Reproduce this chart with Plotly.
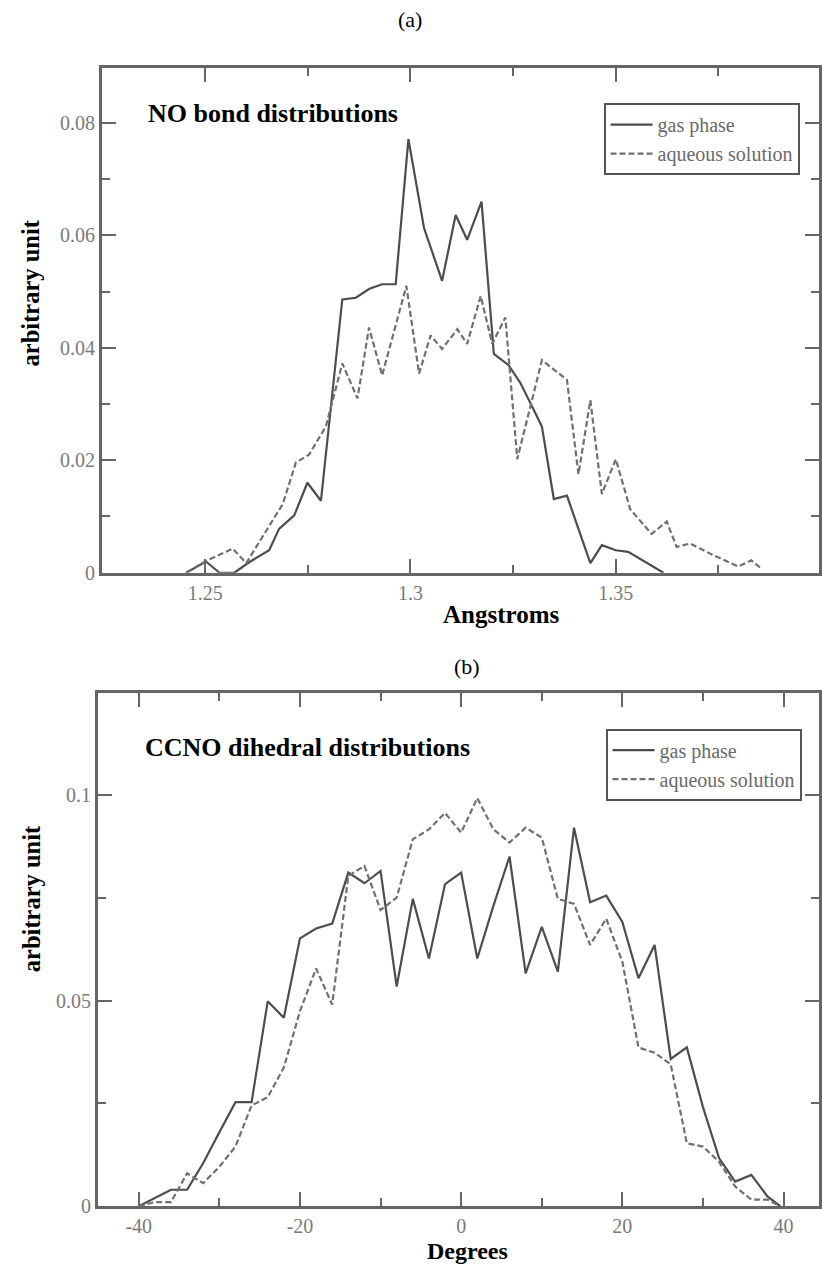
import plotly.graph_objects as go

# ---------------- (a) NO bond distributions ----------------
no_gas_x = [1.2454, 1.2502, 1.2535, 1.2571, 1.2608, 1.2656, 1.2680, 1.2717, 1.2749, 1.2782,
            1.2834, 1.2867, 1.2900, 1.2931, 1.2964, 1.2995, 1.3033, 1.3077, 1.3110, 1.3138,
            1.3173, 1.3203, 1.3239, 1.3268, 1.3300, 1.3320, 1.3349, 1.3381, 1.3438, 1.3466,
            1.3500, 1.3530, 1.3616]
no_gas_y = [0, 0.0020, 0, 0, 0.0019, 0.0040, 0.0078, 0.0102, 0.0160, 0.0128,
            0.0486, 0.0489, 0.0505, 0.0513, 0.0513, 0.0771, 0.0613, 0.0519, 0.0636, 0.0592,
            0.0660, 0.0389, 0.0369, 0.0337, 0.0290, 0.0260, 0.0131, 0.0137, 0.0017, 0.0049,
            0.0040, 0.0037, 0]

no_aq_x = [1.2454, 1.2500, 1.2567, 1.2600, 1.2644, 1.2689, 1.2721, 1.2753, 1.2794, 1.2834,
           1.2871, 1.2899, 1.2931, 1.2990, 1.3021, 1.3049, 1.3077, 1.3114, 1.3138, 1.3171,
           1.3199, 1.3231, 1.3260, 1.3320, 1.3381, 1.3409, 1.3438, 1.3466, 1.3500, 1.3535,
           1.3587, 1.3624, 1.3648, 1.3681, 1.3735, 1.3798, 1.3830, 1.3855]
no_aq_y = [0, 0.0020, 0.0043, 0.0017, 0.0069, 0.0122, 0.0196, 0.0210, 0.0260, 0.0372,
           0.0310, 0.0436, 0.0351, 0.0510, 0.0354, 0.0422, 0.0398, 0.0433, 0.0407, 0.0492,
           0.0407, 0.0454, 0.0202, 0.0378, 0.0343, 0.0175, 0.0307, 0.0140, 0.0202, 0.0113,
           0.0069, 0.0091, 0.0046, 0.0052, 0.0032, 0.0011, 0.0022, 0.0007]

no_xticks = [1.25, 1.3, 1.35]
no_xtick_text = ["1.25", "1.3", "1.35"]

# ---------------- (b) CCNO dihedral distributions ----------------
dih_x = [-40, -38, -36, -34, -32, -30, -28, -26, -24, -22, -20, -18, -16, -14, -12, -10,
         -8, -6, -4, -2, 0, 2, 4, 6, 8, 10, 12, 14, 16, 18, 20, 22, 24, 26, 28, 30,
         32, 34, 36, 38, 39.6]
dih_gas_y = [0, 0.0020, 0.0040, 0.0040, 0.0105, 0.0180, 0.0253, 0.0253, 0.0498, 0.0458,
             0.0651, 0.0675, 0.0687, 0.0811, 0.0785, 0.0815, 0.0534, 0.0747, 0.0602, 0.0783,
             0.0811, 0.0602, 0.0730, 0.0850, 0.0566, 0.0679, 0.0570, 0.0920, 0.0739, 0.0755,
             0.0691, 0.0554, 0.0635, 0.0358, 0.0386, 0.0241, 0.0117, 0.0060, 0.0076, 0.0024,
             0]
dih_aq_y = [0, 0.0010, 0.0010, 0.0080, 0.0056, 0.0096, 0.0145, 0.0245, 0.0265, 0.0337,
            0.0474, 0.0578, 0.0490, 0.0803, 0.0827, 0.0720, 0.0750, 0.0892, 0.0916, 0.0956,
            0.0908, 0.0992, 0.0916, 0.0884, 0.0920, 0.0896, 0.0747, 0.0735, 0.0635, 0.0699,
            0.0594, 0.0386, 0.0373, 0.0345, 0.0153, 0.0145, 0.0108, 0.0048, 0.0016, 0.0016,
            0]

dih_xticks = [-40, -20, 0, 20, 40]
dih_xtick_text = ["-40", "-20", "0", "20", "40"]

series_names = ["gas phase", "aqueous solution"]

FONT = "Liberation Serif"
W, H = 822, 1278

GAS_LINE = dict(color="#4d4d4d", width=2.2)
AQ_LINE = dict(color="#707070", width=2.2, dash="6px,3px")

fig = go.Figure()
fig.add_trace(go.Scatter(x=no_gas_x, y=no_gas_y, mode="lines", name=series_names[0],
                         line=GAS_LINE, xaxis="x", yaxis="y", legend="legend"))
fig.add_trace(go.Scatter(x=no_aq_x, y=no_aq_y, mode="lines", name=series_names[1],
                         line=AQ_LINE, xaxis="x", yaxis="y", legend="legend"))
fig.add_trace(go.Scatter(x=dih_x, y=dih_gas_y, mode="lines", name=series_names[0],
                         line=GAS_LINE, xaxis="x2", yaxis="y2", legend="legend2"))
fig.add_trace(go.Scatter(x=dih_x, y=dih_aq_y, mode="lines", name=series_names[1],
                         line=AQ_LINE, xaxis="x2", yaxis="y2", legend="legend2"))


def px_x(p):
    return p / W


def px_y(p):
    return 1 - p / H


def axis_style(dtick, tick0, minor_dtick):
    return dict(
        showline=True, linecolor="#666666", linewidth=3, mirror="allticks",
        ticks="inside", ticklen=14, tickwidth=2, tickcolor="#666666",
        showgrid=False, zeroline=False,
        tickmode="linear", dtick=dtick, tick0=tick0,
        tickfont=dict(family=FONT, size=20, color="#7a7a7a"),
        minor=dict(ticks="inside", ticklen=8, tickwidth=2, tickcolor="#666666",
                   dtick=minor_dtick, tick0=tick0, showgrid=False),
    )


xa1 = axis_style(0.05, 1.25, 0.025)
xa1.update(domain=[px_x(102.3), px_x(820.7)], anchor="y", range=[1.2249, 1.3994],
           tickmode="array", tickvals=no_xticks, ticktext=no_xtick_text)
ya1 = axis_style(0.02, 0, 0.01)
ya1.update(domain=[px_y(577.7), px_y(68.3)], anchor="x", range=[0, 0.0898])

xa2 = axis_style(20, 0, 10)
xa2.update(domain=[px_x(98.3), px_x(820.7)], anchor="y2", range=[-45.05, 44.36],
           tickmode="array", tickvals=dih_xticks, ticktext=dih_xtick_text)
ya2 = axis_style(0.05, 0, 0.025)
ya2.update(domain=[px_y(1216.7), px_y(699.4)], anchor="x2", range=[0, 0.12465])

legend_common = dict(
    xanchor="left", yanchor="top", bgcolor="white", bordercolor="#555555", borderwidth=2,
    font=dict(family=FONT, size=20, color="#6a6a6a"), itemwidth=42, tracegroupgap=0,
)
leg1 = dict(legend_common, x=px_x(605), y=px_y(104))
leg2 = dict(legend_common, x=px_x(607), y=px_y(735))


def ann(text, x, y, size, bold=False, angle=0, xanchor="center", color="black"):
    t = f"<b>{text}</b>" if bold else text
    return dict(text=t, x=px_x(x), y=px_y(y), xref="paper", yref="paper",
                xanchor=xanchor, yanchor="middle", showarrow=False, textangle=angle,
                font=dict(family=FONT, size=size, color=color))


annotations = [
    ann("(a)", 411, 20, 22),
    ann("(b)", 468, 672, 22),
    ann("NO bond distributions", 146, 114, 26, bold=True, xanchor="left"),
    ann("CCNO dihedral distributions", 143, 754, 26, bold=True, xanchor="left"),
    ann("arbitrary unit", 31, 295, 24.5, bold=True, angle=-90),
    ann("arbitrary unit", 31, 906, 24.5, bold=True, angle=-90),
    ann("Angstroms", 502, 620, 25, bold=True),
    ann("Degrees", 469, 1262, 24, bold=True),
]

fig.update_layout(
    width=W, height=H, margin=dict(l=0, r=0, t=0, b=0),
    paper_bgcolor="white", plot_bgcolor="white",
    xaxis=xa1, yaxis=ya1, xaxis2=xa2, yaxis2=ya2,
    legend=leg1, legend2=leg2,
    annotations=annotations,
)

fig.write_html("out.html")
